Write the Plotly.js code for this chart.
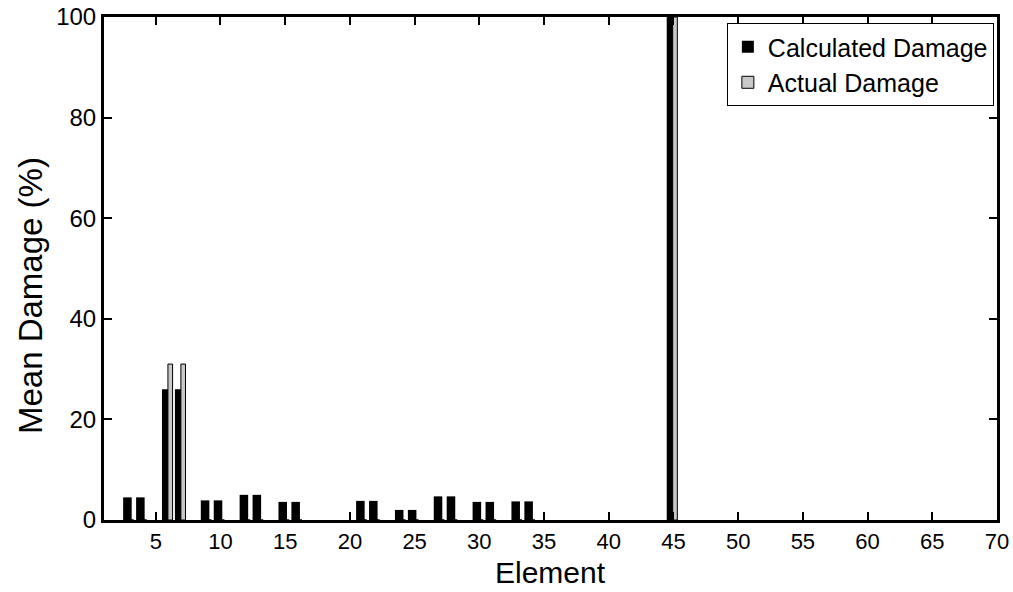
<!DOCTYPE html>
<html>
<head>
<meta charset="utf-8">
<script src="https://cdn.plot.ly/plotly-3.0.1.min.js"></script>
<style>html,body{margin:0;padding:0;background:#fff;}#chart{width:1013px;height:592px;}</style>
</head>
<body>
<div id="chart"></div>
<script>
const elements = [3, 4, 6, 7, 9, 10, 12, 13, 15, 16, 21, 22, 24, 25, 27, 28, 30, 31, 33, 34, 45];
const calculatedDamage = [4.5, 4.5, 26, 26, 3.9, 3.9, 5.0, 5.0, 3.6, 3.6, 3.8, 3.8, 2.0, 2.0, 4.7, 4.7, 3.6, 3.6, 3.7, 3.7, 100];
const actualDamage = [0, 0, 31, 31, 0, 0, 0, 0, 0, 0, 0, 0, 0, 0, 0, 0, 0, 0, 0, 0, 100];
const xTicks = [5, 10, 15, 20, 25, 30, 35, 40, 45, 50, 55, 60, 65, 70];
const yTicks = [0, 20, 40, 60, 80, 100];
const xTitle = 'Element';
const yTitle = 'Mean Damage (%)';

const FONT = 'Liberation Sans, Arial, sans-serif';

const traces = [
  {
    type: 'bar', name: 'Calculated Damage', x: elements, y: calculatedDamage,
    width: 0.66, offset: -0.52,
    marker: {color: '#000000', line: {color: '#000000', width: 0}}
  },
  {
    type: 'bar', name: 'Actual Damage', x: elements, y: actualDamage,
    width: 0.36, offset: -0.06,
    marker: {color: '#c8c8c8', line: {color: '#000000', width: 1}}
  }
];

const layout = {
  width: 1013, height: 592,
  margin: {l: 104, r: 16, t: 17, b: 72, pad: 0},
  paper_bgcolor: '#ffffff', plot_bgcolor: '#ffffff',
  barmode: 'overlay',
  font: {family: FONT, color: '#000000', size: 24},
  showlegend: true,
  legend: {
    x: 0.9965, y: 0.988, xanchor: 'right', yanchor: 'top',
    bgcolor: '#ffffff', bordercolor: '#000000', borderwidth: 1,
    font: {family: FONT, size: 25, color: '#000000'},
    tracegroupgap: 0, itemwidth: 30
  },
  xaxis: {
    range: [1, 70], tickvals: xTicks, ticktext: xTicks.map(String),
    ticks: 'inside', ticklen: 8, tickwidth: 2, tickcolor: '#000000',
    showline: true, linewidth: 3, linecolor: '#000000', mirror: 'allticks',
    showgrid: false, zeroline: false,
    tickfont: {family: FONT, size: 22, color: '#000000'}
  },
  yaxis: {
    range: [0, 100], tickvals: yTicks, ticktext: yTicks.map(String),
    ticks: 'inside', ticklen: 8, tickwidth: 2, tickcolor: '#000000',
    showline: true, linewidth: 3, linecolor: '#000000', mirror: 'allticks',
    showgrid: false, zeroline: false,
    tickfont: {family: FONT, size: 24, color: '#000000'}
  },
  annotations: [
    {
      text: xTitle, xref: 'paper', yref: 'paper', x: 0.5, y: -0.1034,
      xanchor: 'center', yanchor: 'middle', showarrow: false,
      font: {family: FONT, size: 30, color: '#000000'}
    },
    {
      text: yTitle, xref: 'paper', yref: 'paper', x: -0.083, y: 0.447,
      xanchor: 'center', yanchor: 'middle', textangle: -90, showarrow: false,
      font: {family: FONT, size: 33, color: '#000000'}
    }
  ]
};

Plotly.newPlot('chart', traces, layout, {displayModeBar: false, staticPlot: true});
</script>
</body>
</html>
